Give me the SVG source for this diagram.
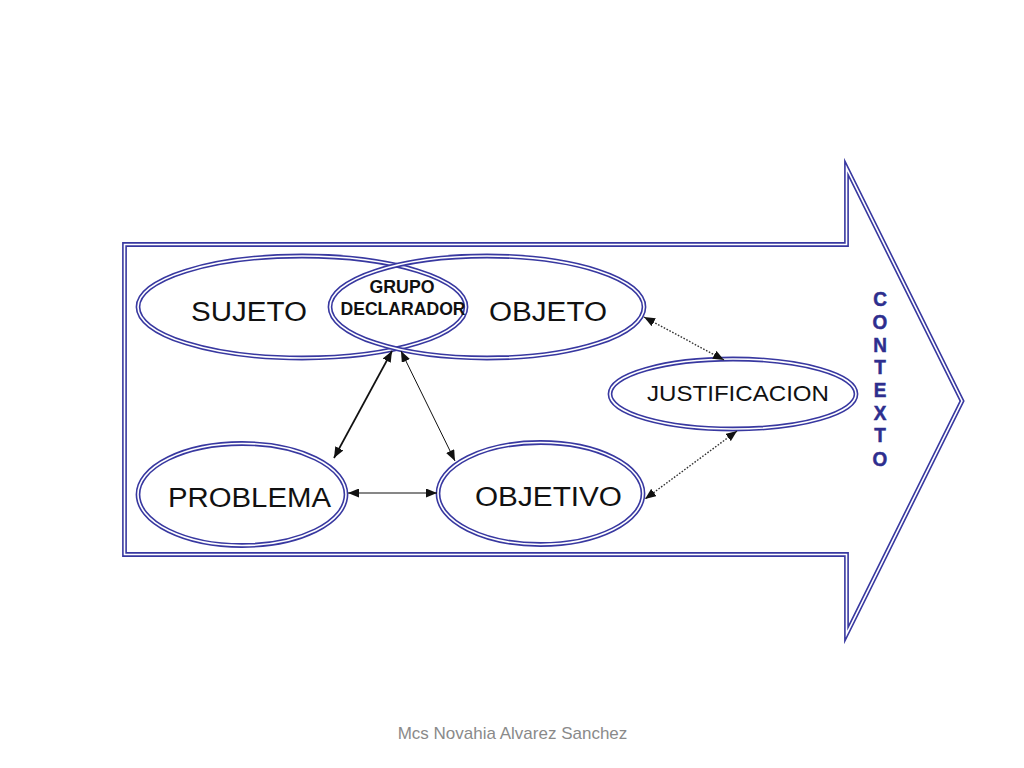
<svg xmlns="http://www.w3.org/2000/svg" width="1024" height="768" viewBox="0 0 1024 768">
  <defs>
    <style>
      .dbl { fill: none; stroke: #3838a0; stroke-width: 4.8; stroke-miterlimit: 12; }
      .gap { fill: none; stroke: #ffffff; stroke-width: 1.6; stroke-miterlimit: 12; }
      .lbl { font-family: "Liberation Sans", Arial, sans-serif; font-size: 27px; fill: #111111; text-anchor: middle; }
      .lbl-b { font-family: "Liberation Sans", Arial, sans-serif; font-size: 18px; font-weight: bold; fill: #111111; text-anchor: middle; }
      .ctx { font-family: "Liberation Sans", Arial, sans-serif; font-size: 20px; font-weight: bold; fill: #2e2e8e; text-anchor: middle; stroke: #2e2e8e; stroke-width: 0.5; }
      .con { fill: none; stroke: #111111; marker-start: url(#ah); marker-end: url(#ah); }
      .dot { fill: none; stroke: #333333; stroke-width: 1.4; stroke-dasharray: 1.6 1.6; marker-start: url(#ah); marker-end: url(#ah); }
      .foot { font-family: "Liberation Sans", Arial, sans-serif; font-size: 17px; fill: #8a8a8a; text-anchor: middle; }
    </style>
    <marker id="ah" viewBox="0 0 11 9" refX="11" refY="4.5" markerWidth="11" markerHeight="9" markerUnits="userSpaceOnUse" orient="auto-start-reverse">
      <path d="M0,0 L11,4.5 L0,9 Z" fill="#111111"/>
    </marker>
  </defs>
  <rect width="1024" height="768" fill="#ffffff"/>

  <g id="contexto-arrow">
    <path class="dbl" d="M124.5,244.5 H846.5 V168 L962,401 L846.5,634 V554.5 H124.5 Z"/>
    <path class="gap" d="M124.5,244.5 H846.5 V168 L962,401 L846.5,634 V554.5 H124.5 Z"/>
    <g transform="translate(880 0) scale(0.95 1)">
      <text class="ctx"><tspan x="0" y="306">C</tspan><tspan x="0" y="329">O</tspan><tspan x="0" y="352">N</tspan><tspan x="0" y="374">T</tspan><tspan x="0" y="397">E</tspan><tspan x="0" y="420">X</tspan><tspan x="0" y="442">T</tspan><tspan x="0" y="466">O</tspan></text>
    </g>
  </g>

  <g id="sujeto">
    <ellipse class="dbl" cx="302" cy="307" rx="164" ry="51"/>
    <ellipse class="gap" cx="302" cy="307" rx="164" ry="51"/>
    <text class="lbl" x="249" y="321" textLength="116" lengthAdjust="spacingAndGlyphs">SUJETO</text>
  </g>

  <g id="objeto">
    <ellipse class="dbl" cx="487" cy="307" rx="157" ry="51"/>
    <ellipse class="gap" cx="487" cy="307" rx="157" ry="51"/>
    <text class="lbl" x="548" y="321" textLength="118" lengthAdjust="spacingAndGlyphs">OBJETO</text>
  </g>

  <g id="grupo-declarador">
    <text class="lbl-b" x="402" y="293" textLength="65" lengthAdjust="spacingAndGlyphs">GRUPO</text>
    <text class="lbl-b" x="403" y="315" textLength="125" lengthAdjust="spacingAndGlyphs">DECLARADOR</text>
  </g>

  <g id="justificacion">
    <ellipse class="dbl" cx="733" cy="394" rx="123" ry="35"/>
    <ellipse class="gap" cx="733" cy="394" rx="123" ry="35"/>
    <text class="lbl" x="738" y="401" style="font-size:22.5px" textLength="182" lengthAdjust="spacingAndGlyphs">JUSTIFICACION</text>
  </g>

  <g id="problema">
    <ellipse class="dbl" cx="242" cy="494.5" rx="104" ry="51"/>
    <ellipse class="gap" cx="242" cy="494.5" rx="104" ry="51"/>
    <text class="lbl" x="249.5" y="507" textLength="163" lengthAdjust="spacingAndGlyphs">PROBLEMA</text>
  </g>

  <g id="objetivo">
    <ellipse class="dbl" cx="540.5" cy="493.5" rx="102.5" ry="51"/>
    <ellipse class="gap" cx="540.5" cy="493.5" rx="102.5" ry="51"/>
    <text class="lbl" x="548.5" y="506" textLength="147" lengthAdjust="spacingAndGlyphs">OBJETIVO</text>
  </g>

  <g id="connectors">
    <line class="con" x1="392" y1="351" x2="334" y2="458" stroke-width="1.7"/>
    <line class="con" x1="401" y1="351" x2="455" y2="461" stroke-width="1"/>
    <line class="con" x1="348" y1="493" x2="437" y2="493" stroke-width="1.2"/>
    <line class="dot" x1="644" y1="317" x2="724" y2="360"/>
    <line class="dot" x1="737" y1="431" x2="645" y2="499"/>
  </g>

  <text class="foot" x="512.5" y="739">Mcs Novahia Alvarez Sanchez</text>
</svg>
